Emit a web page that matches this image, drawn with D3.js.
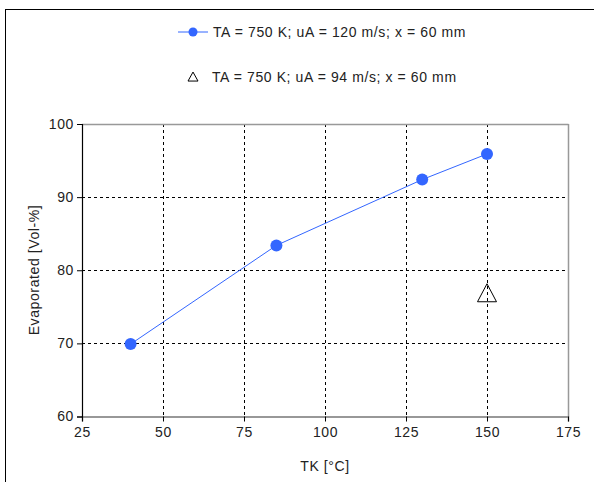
<!DOCTYPE html>
<html><head><meta charset="utf-8">
<script src="https://d3js.org/d3.v7.min.js"></script>
<style>body{margin:0;background:#fff}svg{display:block}text{font-family:"Liberation Sans",Arial,sans-serif;letter-spacing:0.6px}</style>
</head><body><svg id="c" width="594" height="482"></svg>
<script>
const seriesA_x = [40, 85, 130, 150];
const seriesA_y = [69.9, 83.4, 92.4, 95.9];
const seriesB_x = [150];
const seriesB_y = [76.8];
const seriesNames = ["TA = 750 K; uA = 120 m/s; x = 60 mm", "TA = 750 K; uA = 94 m/s; x = 60 mm"];
const xTicks = [25, 50, 75, 100, 125, 150, 175];
const yTicks = [60, 70, 80, 90, 100];

const svg = d3.select("#c");
const blue = "#3366ff";
const FS = 14;
const L = 82, R = 568, T = 124, B = 416.5;
const x = d3.scaleLinear().domain([25, 175]).range([L, R]);
const y = d3.scaleLinear().domain([60, 100]).range([B, T]);

// outer frame
svg.append("rect").attr("x", 5.5).attr("y", 9.5).attr("width", 700).attr("height", 700)
  .attr("fill", "none").attr("stroke", "#000").attr("stroke-width", 1);

// gridlines
svg.append("g").selectAll("line").data(xTicks.filter(d => d > 25 && d < 175)).join("line")
  .attr("x1", d => Math.round(x(d)) + 0.5).attr("x2", d => Math.round(x(d)) + 0.5)
  .attr("y1", T).attr("y2", B).attr("stroke", "#000").attr("stroke-dasharray", "3,3");
svg.append("g").selectAll("line").data(yTicks.filter(d => d > 60 && d < 100)).join("line")
  .attr("y1", d => Math.round(y(d)) + 0.5).attr("y2", d => Math.round(y(d)) + 0.5)
  .attr("x1", L).attr("x2", R).attr("stroke", "#000").attr("stroke-dasharray", "3,3");

// plot border (top, right grey)
svg.append("line").attr("x1", L).attr("x2", R + 0.5).attr("y1", T + 0.5).attr("y2", T + 0.5).attr("stroke", "#999").attr("stroke-width", 1.5);
svg.append("line").attr("x1", R + 0.5).attr("x2", R + 0.5).attr("y1", T).attr("y2", B).attr("stroke", "#999").attr("stroke-width", 1.5);

// axes
const xAxis = d3.axisBottom(x).tickValues(xTicks).tickSize(5).tickPadding(6).tickFormat(d3.format("d"));
const gx = svg.append("g").attr("transform", `translate(0,${B})`).call(xAxis);
gx.select(".domain").attr("stroke", "#777").attr("stroke-width", 1.5);
gx.selectAll(".tick line").attr("stroke", "#000");
gx.selectAll("text").attr("font-size", FS).attr("fill", "#222");

const yAxis = d3.axisLeft(y).tickValues(yTicks).tickSize(5).tickPadding(3).tickFormat(d3.format("d"));
const gy = svg.append("g").attr("transform", `translate(${L},0)`).call(yAxis);
gy.select(".domain").attr("stroke", "#000").attr("stroke-width", 1.2);
gy.selectAll(".tick line").attr("stroke", "#000");
gy.selectAll("text").attr("font-size", FS).attr("fill", "#222");

// axis titles
svg.append("text").attr("x", 325).attr("y", 471).attr("text-anchor", "middle").attr("font-size", FS).attr("fill", "#222").text("TK [°C]");
svg.append("text").attr("transform", "translate(39,270) rotate(-90)").attr("text-anchor", "middle").attr("font-size", FS).attr("fill", "#222").text("Evaporated [Vol-%]");

// series A
const ptsA = seriesA_x.map((d, i) => [d, seriesA_y[i]]);
svg.append("path").datum(ptsA).attr("fill", "none").attr("stroke", blue).attr("stroke-width", 1)
  .attr("d", d3.line().x(d => x(d[0])).y(d => y(d[1])));
svg.append("g").selectAll("circle").data(ptsA).join("circle")
  .attr("cx", d => x(d[0])).attr("cy", d => y(d[1])).attr("r", 6).attr("fill", blue);

// series B
const ptsB = seriesB_x.map((d, i) => [d, seriesB_y[i]]);
const tri = (cx, cy, w, h) => `M${cx},${cy - h * 0.55}L${cx + w / 2},${cy + h * 0.45}L${cx - w / 2},${cy + h * 0.45}Z`;
svg.append("g").selectAll("path").data(ptsB).join("path")
  .attr("d", d => tri(x(d[0]), y(d[1]), 19, 18)).attr("fill", "none").attr("stroke", "#000").attr("stroke-width", 1);

// legend
svg.append("line").attr("x1", 178).attr("x2", 208).attr("y1", 32).attr("y2", 32).attr("stroke", blue).attr("stroke-width", 1);
svg.append("circle").attr("cx", 193).attr("cy", 32).attr("r", 4.5).attr("fill", blue);
svg.append("text").attr("x", 213).attr("y", 37).attr("font-size", FS).attr("fill", "#222").text(seriesNames[0]);
svg.append("path").attr("d", tri(193, 77, 10, 9)).attr("fill", "none").attr("stroke", "#000").attr("stroke-width", 1);
svg.append("text").attr("x", 212).attr("y", 82).attr("font-size", FS).attr("fill", "#222").text(seriesNames[1]);
</script></body></html>
